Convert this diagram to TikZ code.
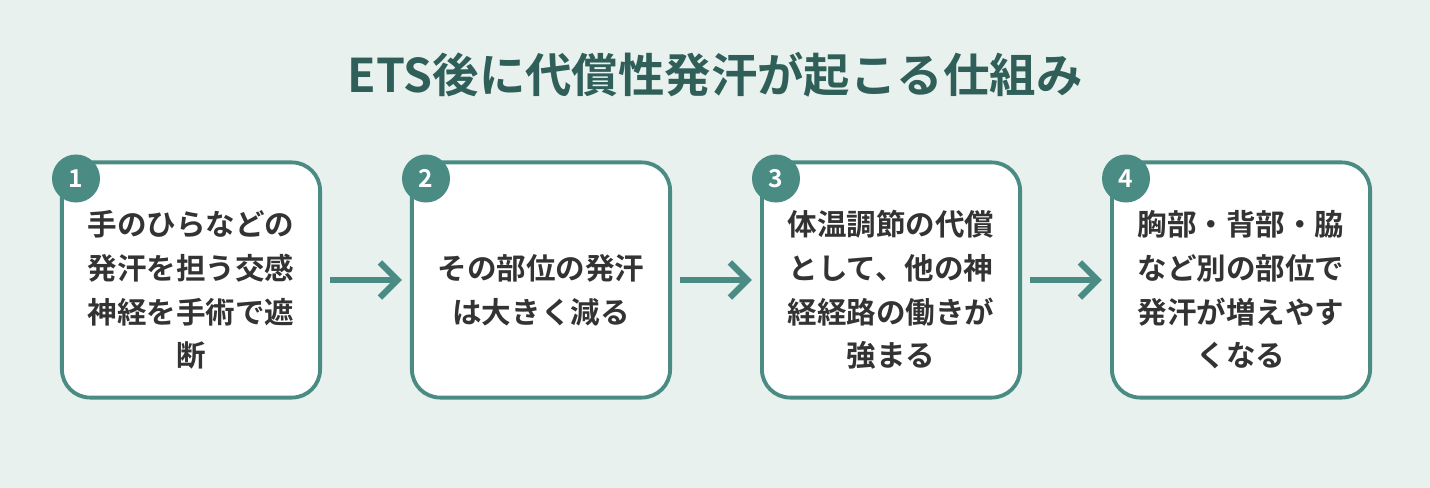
\documentclass[tikz,border=0pt]{standalone}
\usepackage{fontspec}
\newfontfamily\cjk{Noto Sans CJK JP}[BoldFont=* Bold]
\usetikzlibrary{positioning,arrows.meta}
\definecolor{bgc}{HTML}{E8F1EE}
\definecolor{teal}{HTML}{4A8C84}
\definecolor{titlec}{HTML}{2F5F58}
\definecolor{txt}{HTML}{333333}

\begin{document}
\begin{tikzpicture}[x=0.01cm,y=-0.01cm,
	stepbox/.style={draw=teal, line width=1.1pt, fill=white, rounded corners=8pt,
		minimum width=2.58cm, minimum height=2.35cm},
	steptext/.style={align=center, text=txt,
		font=\cjk\bfseries\fontsize{8.4}{12.4}\selectfont},
	num/.style={circle, fill=teal, minimum size=0.48cm, inner sep=0pt, text=white,
		font=\cjk\bfseries\fontsize{7}{8}\selectfont},
	flow/.style={->, draw=teal, line width=1.8pt, >={Straight Barb[length=5pt,width=10pt]}}]
	\fill[bgc] (0,0) rectangle (1430,488);
	\node[text=titlec, font=\cjk\bfseries\fontsize{13.2}{14}\selectfont] (title) at (715,75) {ETS後に代償性発汗が起こる仕組み};

	\node[stepbox] (s1) at (191,280) {};
	\node[stepbox] (s2) at (541,280) {};
	\node[stepbox] (s3) at (891,280) {};
	\node[stepbox] (s4) at (1241,280) {};
	\node[steptext] (t1) at (191,290) {手のひらなどの\\発汗を担う交感\\神経を手術で遮\\断};
	\node[steptext] (t2) at (541,290) {その部位の発汗\\は大きく減る};
	\node[steptext] (t3) at (891,290) {体温調節の代償\\として、他の神\\経経路の働きが\\強まる};
	\node[steptext] (t4) at (1241,290) {胸部・背部・脇\\など別の部位で\\発汗が増えやす\\くなる};

	\foreach \s/\n in {s1/1, s2/2, s3/3, s4/4} {
		\node[num] (n\n) at ([xshift=0.16cm,yshift=-0.18cm]\s.north west) {\n};
	}

	\draw[flow] ([xshift=0.08cm]s1.east) -- ([xshift=-0.08cm]s2.west);
	\draw[flow] ([xshift=0.08cm]s2.east) -- ([xshift=-0.08cm]s3.west);
	\draw[flow] ([xshift=0.08cm]s3.east) -- ([xshift=-0.08cm]s4.west);
\end{tikzpicture}
\end{document}
